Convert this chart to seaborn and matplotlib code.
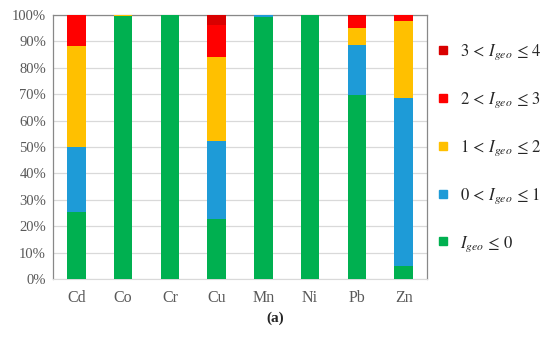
import numpy as np
import pandas as pd
import matplotlib.pyplot as plt
import seaborn as sns
from matplotlib.lines import Line2D

metals = ["Cd", "Co", "Cr", "Cu", "Mn", "Ni", "Pb", "Zn"]
# percentage of samples in each Igeo class
igeo_le0 = [25.5, 99.6, 99.8, 22.7, 99.4, 99.8, 69.6, 5.0]
igeo_0_1 = [24.6, 0.0, 0.0, 29.5, 0.6, 0.2, 18.9, 63.4]
igeo_1_2 = [38.3, 0.4, 0.0, 31.8, 0.0, 0.0, 6.7, 29.2]
igeo_2_3 = [11.6, 0.0, 0.0, 12.2, 0.0, 0.0, 4.5, 2.4]
igeo_3_4 = [0.0, 0.0, 0.2, 3.8, 0.0, 0.0, 0.3, 0.0]

classes = [r"$I_{geo}\,\leq\,0$", r"$0\,<\,I_{geo}\,\leq\,1$", r"$1\,<\,I_{geo}\,\leq\,2$",
           r"$2\,<\,I_{geo}\,\leq\,3$", r"$3\,<\,I_{geo}\,\leq\,4$"]
colors = ["#00B050", "#1E9BD7", "#FFC000", "#FF0000", "#D90000"]

df = pd.DataFrame({"metal": metals, "c0": igeo_le0, "c1": igeo_0_1,
                   "c2": igeo_1_2, "c3": igeo_2_3, "c4": igeo_3_4})
layers = ["c0", "c1", "c2", "c3", "c4"]
cum = df[layers].cumsum(axis=1)

sns.set_style("white")
plt.rcParams["font.family"] = ["Liberation Serif", "DejaVu Serif"]
plt.rcParams["mathtext.fontset"] = "stix"

fig = plt.figure(figsize=(5.5, 3.39), dpi=100)
ax = fig.add_axes([0.0964, 0.177, 0.68, 0.779])

# draw stacked bars top layer first
for lay, col in reversed(list(zip(layers, colors))):
    sns.barplot(x=df["metal"], y=cum[lay], color=col, width=0.4, ax=ax,
                saturation=1, edgecolor="none", zorder=3)

ax.set_ylim(0, 100)
ax.set_yticks(np.arange(0, 101, 10))
ax.set_yticklabels([f"{v}%" for v in range(0, 101, 10)])
ax.set_xlabel("")
ax.set_ylabel("")
ax.yaxis.grid(True, color="#D9D9D9", linewidth=0.9, zorder=0)
ax.set_axisbelow(True)
ax.tick_params(axis="y", labelsize=10.5, colors="#595959", length=0, pad=5)
ax.tick_params(axis="x", labelsize=11.5, colors="#595959", length=0, pad=8)
for s in ["left", "top", "right"]:
    ax.spines[s].set_color("#888888")
    ax.spines[s].set_linewidth(0.9)
ax.spines["bottom"].set_color("#D9D9D9")

handles = [Line2D([], [], marker="s", linestyle="none", markersize=6,
                  markerfacecolor=c, markeredgecolor=c) for c in colors]
leg = fig.legend(handles[::-1], classes[::-1], loc="upper left",
                 bbox_to_anchor=(0.79, 0.875), frameon=False, fontsize=12,
                 labelspacing=1.7, handletextpad=0.5, handlelength=1.0,
                 borderaxespad=0, borderpad=0)

fig.text(0.5, 0.06, "(a)", ha="center", va="center", fontsize=11, fontweight="bold")

plt.savefig("out.png", dpi=100)
